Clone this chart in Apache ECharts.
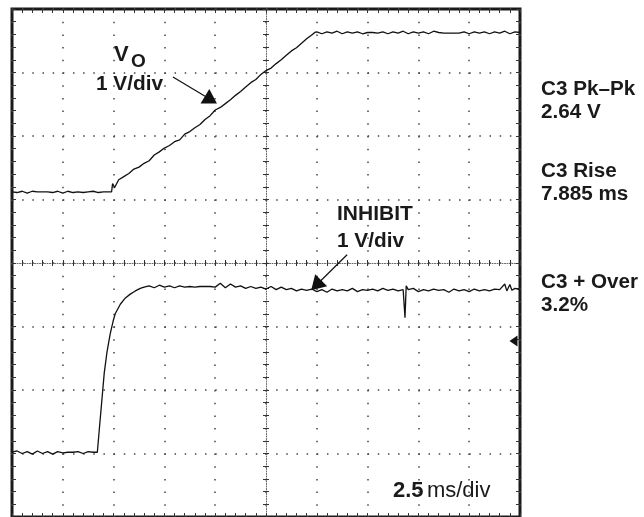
<!DOCTYPE html>
<html>
<head>
<meta charset="utf-8">
<script src="https://cdn.jsdelivr.net/npm/echarts@6/dist/echarts.min.js"></script>
<style>html,body{margin:0;padding:0;background:#fff;}#c{width:644px;height:517px;}</style>
</head>
<body>
<div id="c"></div>
<script>
// Time axis in ms (2.5 ms/div, trigger at centre), vertical axis in divisions (1 V/div)
const xMin = -12.5, xMax = 12.5, xStep = 2.5;
const yMin = -4, yMax = 4, yStep = 1;

// VO trace [ms, div]
const voTrace = [
[-12.5,1.12],[-12.25,1.11],[-12,1.13],[-11.75,1.10],[-11.5,1.13],[-11.25,1.12],[-11,1.12],[-10.75,1.12],
[-10.5,1.11],[-10.25,1.13],[-10,1.10],[-9.75,1.13],[-9.5,1.11],[-9.25,1.12],[-9,1.11],[-8.75,1.12],
[-8.5,1.13],[-8.25,1.11],[-8,1.12],[-7.75,1.12],[-7.6,1.12],[-7.55,1.25],[-7.45,1.19],[-7.25,1.31],
[-7,1.36],[-6.75,1.41],[-6.5,1.48],[-6.25,1.51],[-6,1.57],[-5.75,1.61],[-5.5,1.70],[-5.25,1.75],
[-5,1.81],[-4.75,1.85],[-4.5,1.91],[-4.25,1.94],[-4,2.03],[-3.75,2.07],[-3.5,2.13],[-3.25,2.18],
[-3,2.26],[-2.75,2.32],[-2.5,2.41],[-2.25,2.45],[-2,2.51],[-1.75,2.57],[-1.5,2.64],[-1.25,2.70],
[-1,2.77],[-0.75,2.84],[-0.5,2.89],[-0.25,2.97],[0,3.03],[0.25,3.07],[0.5,3.14],[0.75,3.20],
[1,3.27],[1.25,3.34],[1.5,3.39],[1.75,3.46],[2,3.53],[2.25,3.59],[2.4,3.63],
[2.5,3.64],[2.75,3.61],[3,3.64],[3.25,3.62],[3.5,3.65],[3.75,3.61],[4,3.64],[4.25,3.62],
[4.5,3.64],[4.75,3.61],[5,3.63],[5.25,3.63],[5.5,3.62],[5.75,3.64],[6,3.61],[6.25,3.64],
[6.5,3.62],[6.75,3.65],[7,3.61],[7.25,3.64],[7.5,3.62],[7.75,3.64],[8,3.61],[8.25,3.65],
[8.5,3.63],[8.75,3.62],[9,3.62],[9.25,3.62],[9.5,3.62],[9.75,3.64],[10,3.61],[10.25,3.64],
[10.5,3.62],[10.75,3.64],[11,3.61],[11.25,3.64],[11.5,3.62],[11.75,3.65],[12,3.61],[12.25,3.64],[12.5,3.63]
];

// INHIBIT trace [ms, div]
const inhibitTrace = [
[-12.5,-2.98],[-12.25,-2.96],[-12,-3.00],[-11.75,-2.97],[-11.5,-3.01],[-11.25,-2.96],[-11,-3.00],[-10.75,-2.97],
[-10.5,-3.01],[-10.25,-2.97],[-10,-2.99],[-9.75,-2.98],[-9.5,-2.98],[-9.25,-2.97],[-9,-3.00],[-8.75,-2.97],
[-8.5,-2.98],[-8.3,-2.98],[-8.19,-2.57],[-8.08,-2.17],[-7.96,-1.73],[-7.82,-1.39],[-7.67,-1.12],[-7.52,-0.91],
[-7.42,-0.80],[-7.17,-0.65],[-6.92,-0.55],[-6.68,-0.49],[-6.43,-0.44],[-6.19,-0.40],
[-6,-0.38],[-5.75,-0.36],[-5.5,-0.39],[-5.25,-0.35],[-5,-0.38],[-4.75,-0.36],[-4.5,-0.39],[-4.25,-0.36],
[-4,-0.38],[-3.75,-0.37],[-3.5,-0.38],[-3.25,-0.37],[-3,-0.37],[-2.75,-0.37],[-2.5,-0.38],[-2.25,-0.32],
[-2,-0.39],[-1.75,-0.33],[-1.5,-0.38],[-1.25,-0.36],[-1,-0.40],[-0.75,-0.37],[-0.5,-0.40],[-0.25,-0.38],
[0,-0.41],[0.25,-0.37],[0.5,-0.42],[0.75,-0.38],[1,-0.42],[1.25,-0.40],[1.5,-0.44],[1.75,-0.41],
[2,-0.43],[2.25,-0.41],[2.5,-0.45],[2.75,-0.42],[3,-0.46],[3.25,-0.41],[3.5,-0.44],[3.75,-0.42],
[4,-0.44],[4.25,-0.40],[4.5,-0.45],[4.75,-0.42],[5,-0.43],[5.25,-0.41],[5.5,-0.44],[5.75,-0.40],
[6,-0.43],[6.25,-0.41],[6.5,-0.44],[6.75,-0.42],[6.84,-0.86],[6.9,-0.36],[7,-0.42],[7.25,-0.40],
[7.5,-0.45],[7.75,-0.42],[8,-0.44],[8.25,-0.41],[8.5,-0.43],[8.75,-0.42],[9,-0.46],[9.25,-0.41],
[9.5,-0.44],[9.75,-0.42],[10,-0.45],[10.25,-0.41],[10.5,-0.44],[10.75,-0.42],[11,-0.44],[11.25,-0.41],
[11.5,-0.42],[11.75,-0.33],[11.85,-0.44],[12,-0.34],[12.1,-0.43],[12.25,-0.40],[12.5,-0.42]
];

// annotation arrows [start, end] in data units
const voArrow = [[-4.58, 2.93], [-2.71, 2.57]];
const inhibitArrow = [[3.99, 0.13], [2.47, -0.35]];
const groundMarker = [12.18, -1.23];

// measurement readouts
const readouts = ['C3 Pk\u2013Pk', '2.64 V', 'C3 Rise', '7.885 ms', 'C3 + Over', '3.2%'];
const readoutY = [89.5, 113, 172, 195, 283, 306];

const FF = "'Liberation Sans', Arial, Helvetica, sans-serif";
const TXT = '#1a1a1a';
const tickStyle = { color: '#333', width: 1 };

function baseAxis(extra) {
  return Object.assign({
    type: 'value',
    axisLabel: { show: false },
    splitLine: { show: false },
    axisLine: { show: false, onZero: false },
    axisTick: { show: true, inside: true, length: 4, lineStyle: tickStyle },
    minorTick: { show: true, splitNumber: 5, length: 4, lineStyle: tickStyle },
    axisPointer: { show: false }
  }, extra);
}
function xAx(extra) { return baseAxis(Object.assign({ min: xMin, max: xMax, interval: xStep }, extra)); }
function yAx(extra) { return baseAxis(Object.assign({ min: yMin, max: yMax, interval: yStep }, extra)); }

const centreLine = { show: true, onZero: true, onZeroAxisIndex: 0, lineStyle: { color: '#666', width: 1, type: [1, 1.5] } };
const centreLineHidden = { show: false, onZero: true, onZeroAxisIndex: 0 };

const graphics = [
  { type: 'text', x: 114, y: 55, style: { text: 'V', font: 'bold 22px ' + FF, fill: TXT, verticalAlign: 'middle' } },
  { type: 'text', x: 131, y: 61.5, style: { text: 'O', font: 'bold 19px ' + FF, fill: TXT, verticalAlign: 'middle' } },
  { type: 'text', x: 96, y: 84, scaleX: 1.04, style: { text: '1 V/div', font: 'bold 20px ' + FF, fill: TXT, verticalAlign: 'middle' } },
  { type: 'text', x: 337, y: 214.5, scaleX: 1.05, style: { text: 'INHIBIT', font: 'bold 20px ' + FF, fill: TXT, verticalAlign: 'middle' } },
  { type: 'text', x: 337, y: 241.5, scaleX: 1.04, style: { text: '1 V/div', font: 'bold 20px ' + FF, fill: TXT, verticalAlign: 'middle' } },
  { type: 'text', x: 393, y: 490.5, style: { text: '{b|2.5} {n|ms/div}', verticalAlign: 'middle', fill: TXT,
      rich: { b: { font: 'bold 22px ' + FF, fill: TXT }, n: { font: '22px ' + FF, fill: TXT } } } }
];
readouts.forEach((t, i) => {
  graphics.push({ type: 'text', x: 541, y: readoutY[i], scaleX: 1.06, style: { text: t, font: 'bold 19.5px ' + FF, fill: TXT, verticalAlign: 'middle' } });
});

const chart = echarts.init(document.getElementById('c'), null, { renderer: 'canvas' });
chart.setOption({
  animation: false,
  backgroundColor: '#fff',
  grid: { left: 12, top: 9, width: 508, height: 508, show: true, borderColor: '#1a1a1a', borderWidth: 3, backgroundColor: 'transparent', containLabel: false },
  xAxis: [
    xAx({ position: 'bottom', splitLine: { show: true, lineStyle: { color: '#444', width: 1.5, type: [1.5, 11.2] } } }),
    xAx({ position: 'top' }),
    xAx({ position: 'bottom', axisLine: centreLine, axisTick: { show: true, inside: true, length: 3, lineStyle: tickStyle }, minorTick: { show: true, splitNumber: 5, length: 3, lineStyle: tickStyle } }),
    xAx({ position: 'bottom', axisLine: centreLineHidden, axisTick: { show: true, inside: false, length: 3, lineStyle: tickStyle }, minorTick: { show: true, splitNumber: 5, length: 3, lineStyle: tickStyle } })
  ],
  yAxis: [
    yAx({ position: 'left', splitLine: { show: true, lineStyle: { color: '#444', width: 1.5, type: [1.5, 8.66] } } }),
    yAx({ position: 'right' }),
    yAx({ position: 'left', axisLine: centreLine, axisTick: { show: true, inside: true, length: 3, lineStyle: tickStyle }, minorTick: { show: true, splitNumber: 5, length: 3, lineStyle: tickStyle } }),
    yAx({ position: 'left', axisLine: centreLineHidden, axisTick: { show: true, inside: false, length: 3, lineStyle: tickStyle }, minorTick: { show: true, splitNumber: 5, length: 3, lineStyle: tickStyle } })
  ],
  series: [
    {
      name: 'VO', type: 'line', xAxisIndex: 0, yAxisIndex: 0, data: voTrace,
      symbol: 'none', showSymbol: false, lineStyle: { color: '#111', width: 1.3 }, z: 5,
      markLine: {
        silent: true, symbol: ['none', 'triangle'], symbolSize: [17, 14],
        lineStyle: { color: '#111', width: 1.2, type: 'solid' }, label: { show: false },
        itemStyle: { color: '#111' },
        data: [
          [{ coord: voArrow[0] }, { coord: voArrow[1] }],
          [{ coord: inhibitArrow[0] }, { coord: inhibitArrow[1] }]
        ]
      }
    },
    {
      name: 'INHIBIT', type: 'line', xAxisIndex: 0, yAxisIndex: 0, data: inhibitTrace,
      symbol: 'none', showSymbol: false, lineStyle: { color: '#111', width: 1.3 }, z: 5,
      markPoint: {
        silent: true, symbol: 'triangle', symbolRotate: 90, symbolSize: [11, 8],
        itemStyle: { color: '#111' }, label: { show: false },
        data: [{ coord: groundMarker }]
      }
    }
  ],
  graphic: graphics
});
</script>
</body>
</html>
